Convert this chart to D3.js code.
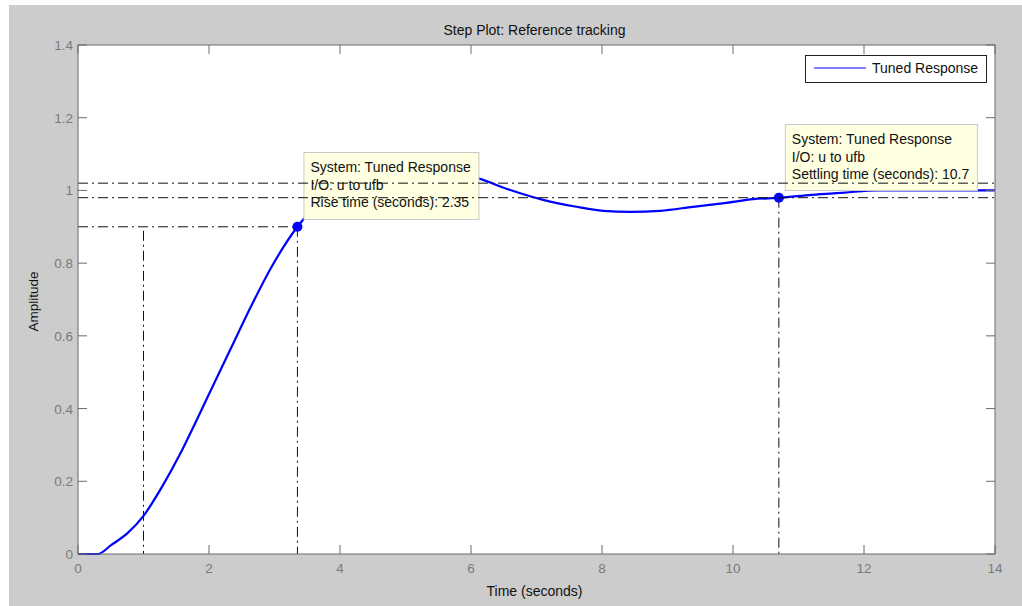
<!DOCTYPE html>
<html>
<head>
<meta charset="utf-8">
<script src="https://cdn.jsdelivr.net/npm/d3@7"></script>
<style>
  body { margin: 0; background: #fff; }
  svg { display: block; font-family: "Liberation Sans", Arial, sans-serif; }
</style>
</head>
<body>
<svg id="chart" width="1022" height="606"></svg>
<script>
// step response samples
var time = [0, 0.3, 0.51, 0.76, 1.0, 1.3, 1.55, 1.8, 2.09, 2.34, 2.65, 2.95, 3.35, 3.7, 4.0, 4.5, 5.0, 5.5, 6.11, 6.6, 7.1, 7.61, 8.02, 8.43, 8.89, 9.39, 9.9, 10.31, 10.72, 11.2, 11.7, 12.2, 14];
var amplitude = [0, 0, 0.025, 0.058, 0.105, 0.19, 0.272, 0.364, 0.474, 0.568, 0.684, 0.788, 0.9, 0.97, 1.01, 1.05, 1.065, 1.055, 1.033, 1.001, 0.974, 0.955, 0.944, 0.941, 0.944, 0.955, 0.966, 0.976, 0.98, 0.988, 0.994, 1.0, 1.0];

var xTicks = [0, 2, 4, 6, 8, 10, 12, 14];
var yTicks = [0, 0.2, 0.4, 0.6, 0.8, 1, 1.2, 1.4];

var riseStart = 1.0, riseTime = 3.35, riseLevel = 0.9;
var settleTime = 10.7, settleLevel = 0.98, bandHigh = 1.02, bandLow = 0.98;

var riseText = ["System: Tuned Response", "I/O: u to ufb", "Rise time (seconds): 2.35"];
var settleText = ["System: Tuned Response", "I/O: u to ufb", "Settling time (seconds): 10.7"];

var svg = d3.select("#chart"),
    width = +svg.attr("width"),
    height = +svg.attr("height");

var margin = {left: 78, top: 45, right: 27, bottom: 52};
var x = d3.scaleLinear().domain([0, 14]).range([margin.left, width - margin.right]);
var y = d3.scaleLinear().domain([0, 1.4]).range([height - margin.bottom, margin.top]);

// grey figure background
svg.append("rect")
    .attr("x", 9).attr("y", 5)
    .attr("width", width - 9).attr("height", height - 5)
    .attr("fill", "#cccccc");

svg.append("rect")
    .attr("x", x(0)).attr("y", y(1.4))
    .attr("width", x(14) - x(0)).attr("height", y(0) - y(1.4))
    .attr("fill", "#fff");

var dashDot = "10,4,2,4";
var guide = svg.append("g")
    .attr("stroke", "#111")
    .attr("stroke-width", 1)
    .attr("stroke-dasharray", dashDot)
    .attr("fill", "none");

// rise time guides
guide.append("line")
    .attr("x1", x(0)).attr("x2", x(riseTime))
    .attr("y1", y(riseLevel)).attr("y2", y(riseLevel));
guide.append("line")
    .attr("x1", x(riseStart)).attr("x2", x(riseStart))
    .attr("y1", y(riseLevel) + 4).attr("y2", y(0));
guide.append("line")
    .attr("x1", x(riseTime)).attr("x2", x(riseTime))
    .attr("y1", y(riseLevel)).attr("y2", y(0));
// settling guide
guide.append("line")
    .attr("x1", x(settleTime)).attr("x2", x(settleTime))
    .attr("y1", y(settleLevel)).attr("y2", y(0));

// response curve
var line = d3.line()
    .x(function(d, i) { return x(time[i]); })
    .y(function(d) { return y(d); })
    .curve(d3.curveMonotoneX);

svg.append("path")
    .datum(amplitude)
    .attr("d", line)
    .attr("fill", "none")
    .attr("stroke", "#0000ff")
    .attr("stroke-width", 2.2);

svg.selectAll(".marker")
    .data([[riseTime, riseLevel], [settleTime, settleLevel]])
    .enter().append("circle")
    .attr("class", "marker")
    .attr("cx", function(d) { return x(d[0]); })
    .attr("cy", function(d) { return y(d[1]); })
    .attr("r", 5)
    .attr("fill", "#0000ff");

// data tips
function dataTip(left, top, w, h, lines) {
    var g = svg.append("g");
    g.append("rect")
        .attr("x", left + 0.5).attr("y", top + 0.5)
        .attr("width", w).attr("height", h)
        .attr("fill", "#ffffe1")
        .attr("stroke", "#c8c8c8");
    g.selectAll("text")
        .data(lines)
        .enter().append("text")
        .attr("x", left + 7)
        .attr("y", function(d, i) { return top + 20 + i * 17.5; })
        .attr("font-size", "14px")
        .attr("fill", "#111")
        .text(function(d) { return d; });
}
dataTip(x(riseTime) + 6, 152, 175, 67, riseText);
dataTip(x(settleTime) + 6, 124, 192, 66, settleText);

// settling band lines over everything
[bandHigh, bandLow].forEach(function(v) {
    svg.append("line")
        .attr("x1", x(0)).attr("x2", x(14))
        .attr("y1", y(v)).attr("y2", y(v))
        .attr("stroke", "#111")
        .attr("stroke-dasharray", dashDot);
});

// axes
var axisColor = "#6a6a6a";
var tickLen = 9;
var axes = svg.append("g").attr("stroke", axisColor).attr("stroke-width", 1);
axes.append("rect")
    .attr("x", x(0)).attr("y", y(1.4))
    .attr("width", x(14) - x(0)).attr("height", y(0) - y(1.4))
    .attr("fill", "none");

xTicks.forEach(function(t) {
    axes.append("line").attr("x1", x(t)).attr("x2", x(t)).attr("y1", y(0)).attr("y2", y(0) - tickLen);
    axes.append("line").attr("x1", x(t)).attr("x2", x(t)).attr("y1", y(1.4)).attr("y2", y(1.4) + tickLen);
});
yTicks.forEach(function(t) {
    axes.append("line").attr("x1", x(0)).attr("x2", x(0) + tickLen).attr("y1", y(t)).attr("y2", y(t));
    axes.append("line").attr("x1", x(14)).attr("x2", x(14) - tickLen).attr("y1", y(t)).attr("y2", y(t));
});

svg.selectAll(".xlabel")
    .data(xTicks)
    .enter().append("text")
    .attr("x", function(d) { return x(d); })
    .attr("y", y(0) + 19)
    .attr("text-anchor", "middle")
    .attr("font-size", "13.5px")
    .attr("fill", "#7a7a7a")
    .text(function(d) { return d; });

svg.selectAll(".ylabel")
    .data(yTicks)
    .enter().append("text")
    .attr("x", x(0) - 5)
    .attr("y", function(d) { return y(d) + 5; })
    .attr("text-anchor", "end")
    .attr("font-size", "13.5px")
    .attr("fill", "#7a7a7a")
    .text(function(d) { return d; });

// legend
var legend = svg.append("g");
legend.append("rect")
    .attr("x", 805.5).attr("y", 55.5)
    .attr("width", 181).attr("height", 27)
    .attr("fill", "#fff")
    .attr("stroke", "#222");
legend.append("line")
    .attr("x1", 814).attr("x2", 866)
    .attr("y1", 68).attr("y2", 68)
    .attr("stroke", "#0000ff");
legend.append("text")
    .attr("x", 872).attr("y", 73)
    .attr("font-size", "14px")
    .attr("fill", "#111")
    .text("Tuned Response");

// titles
svg.append("text")
    .attr("x", (x(0) + x(14)) / 2 - 2).attr("y", 35)
    .attr("text-anchor", "middle")
    .attr("font-size", "14px")
    .attr("fill", "#111")
    .text("Step Plot: Reference tracking");

svg.append("text")
    .attr("x", (x(0) + x(14)) / 2 - 2).attr("y", 596)
    .attr("text-anchor", "middle")
    .attr("font-size", "14px")
    .attr("fill", "#111")
    .text("Time (seconds)");

svg.append("text")
    .attr("transform", "translate(38," + (y(0.7) + 2) + ") rotate(-90)")
    .attr("text-anchor", "middle")
    .attr("font-size", "13.5px")
    .attr("fill", "#111")
    .text("Amplitude");
</script>
</body>
</html>
